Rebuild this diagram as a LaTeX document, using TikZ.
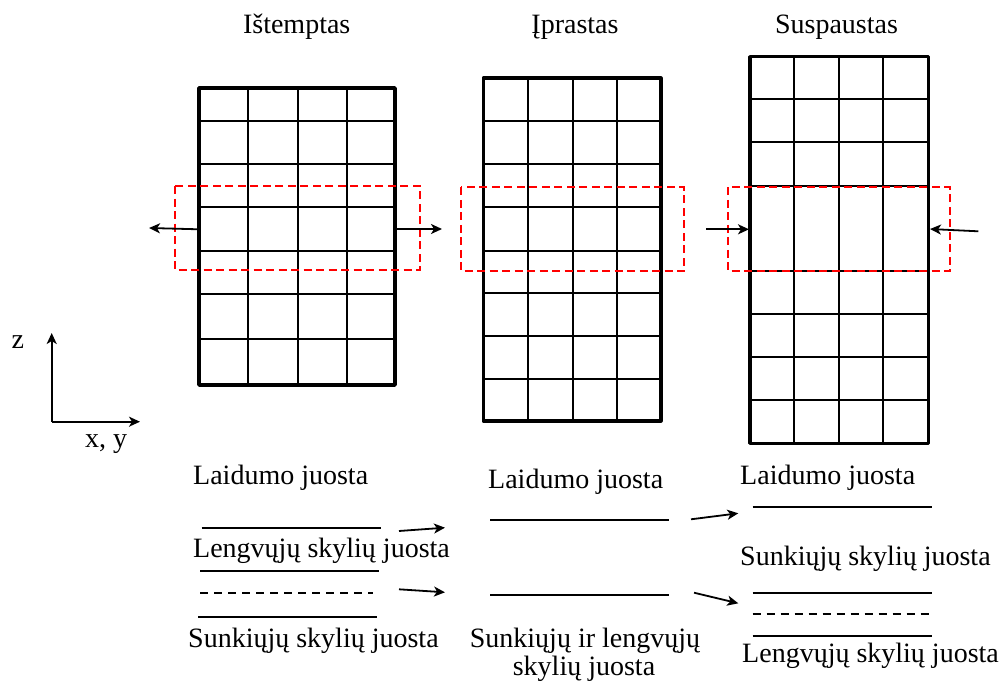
\documentclass[tikz,border=0pt]{standalone}
\usepackage{fontspec}
\setmainfont{Liberation Serif}
\usetikzlibrary{arrows.meta}
\begin{document}
\begin{tikzpicture}[x=1pt,y=-1pt,
  frame/.style={line width=3.6pt, line join=round},
  cell/.style={line width=1.9pt},
  zone/.style={draw=red, line width=1.8pt, dash pattern=on 8pt off 4.5pt},
  level/.style={line width=2pt},
  gaplevel/.style={line width=2pt, dash pattern=on 8pt off 6pt},
  force/.style={line width=1.8pt, -{Stealth[length=11pt,width=10pt,inset=3pt]}},
  lbl/.style={inner sep=0pt, font=\fontsize{28}{30}\selectfont}
]
\useasboundingbox (0,0) rectangle (1003,682);

% --- titles
\node[lbl, anchor=base] (t1) at (296.7,34) {Ištemptas};
\node[lbl, anchor=base] (t2) at (575,34) {Įprastas};
\node[lbl, anchor=base] (t3) at (836.5,34) {Suspaustas};

% --- stretched lattice
\foreach \x in {247.7,298.3,346.7} \draw[cell] (\x,88) -- (\x,385);
\foreach \y in {121,164.3,206.7,251,294,339.3} \draw[cell] (199,\y) -- (395,\y);
\draw[frame] (199,88) rectangle (395,385);
\draw[zone] (175,186) rectangle (420,270);

% --- relaxed lattice
\foreach \x in {528.3,572.7,616.7} \draw[cell] (\x,78) -- (\x,421);
\foreach \y in {121,164.3,206.7,250.7,292.7,336,379} \draw[cell] (483.3,\y) -- (660.7,\y);
\draw[frame] (483.3,78.3) rectangle (660.7,421);
\draw[zone] (460.7,187.3) rectangle (684,271);

% --- compressed lattice
\foreach \x in {794.3,839.3,883.3} \draw[cell] (\x,57) -- (\x,443);
\foreach \y in {98.7,142.3,185.7,271,314,356.7,400} \draw[cell] (750,\y) -- (928.3,\y);
\draw[frame] (750,56.7) rectangle (928.3,443.3);
\draw[zone] (727.7,187.3) rectangle (950,271);

% --- applied forces
\coordinate (s1l) at (199,229.3);  \coordinate (s1lt) at (149,228);
\coordinate (s1r) at (396.7,229);  \coordinate (s1rt) at (442,229);
\coordinate (c3lf) at (706,229.3); \coordinate (c3l) at (749,229.3);
\coordinate (c3rf) at (978.3,231.3); \coordinate (c3r) at (930,229);
\draw[force] (s1l) -- (s1lt);
\draw[force] (s1r) -- (s1rt);
\draw[force] (c3lf) -- (c3l);
\draw[force] (c3rf) -- (c3r);

% --- axes
\coordinate (o) at (51.7,421.7);
\coordinate (zt) at (51.7,333);
\coordinate (xt) at (140,421.7);
\draw[force] (o) -- (zt);
\draw[force] (o) -- (xt);
\node[lbl, anchor=base west] (zl) at (11.5,348) {z};
\node[lbl, anchor=base west] (xl) at (85,447.5) {x, y};

% --- band diagram: stretched
\node[lbl, anchor=base west] (b1c) at (193,484) {Laidumo juosta};
\draw[level] (201.7,528.3) -- (381,528.3);
\node[lbl, anchor=base west] (b1l) at (193,557) {Lengvųjų skylių juosta};
\draw[level] (200,570.7) -- (379.3,570.7);
\draw[gaplevel] (200,593.3) -- (373,593.3);
\draw[level] (198.3,616.7) -- (376.7,616.7);
\node[lbl, anchor=base west] (b1h) at (188,647) {Sunkiųjų skylių juosta};

% --- band diagram: relaxed
\node[lbl, anchor=base west] (b2c) at (488,488.5) {Laidumo juosta};
\draw[level] (490,520) -- (669,520);
\draw[level] (490,595) -- (669,595);
\node[lbl, anchor=base] (b2v1) at (585,647) {Sunkiųjų ir lengvųjų};
\node[lbl, anchor=base] (b2v2) at (584,675) {skylių juosta};

% --- band diagram: compressed
\node[lbl, anchor=base west] (b3c) at (740,484) {Laidumo juosta};
\draw[level] (752.7,506.7) -- (931.7,506.7);
\node[lbl, anchor=base west] (b3h) at (740,565) {Sunkiųjų skylių juosta};
\draw[level] (752.7,592.7) -- (931.7,592.7);
\draw[gaplevel] (752.7,614) -- (931.7,614);
\draw[level] (752.7,635.7) -- (931.7,635.7);
\node[lbl, anchor=base west] (b3l) at (742,662) {Lengvųjų skylių juosta};

% --- band shifts
\coordinate (a1s) at (399,531);   \coordinate (a1e) at (445,527.7);
\coordinate (a2s) at (399,589.3); \coordinate (a2e) at (445,592.3);
\coordinate (a3s) at (691,519.3); \coordinate (a3e) at (738.3,513.3);
\coordinate (a4s) at (694,592.7); \coordinate (a4e) at (738.3,603.3);
\draw[force] (a1s) -- (a1e);
\draw[force] (a2s) -- (a2e);
\draw[force] (a3s) -- (a3e);
\draw[force] (a4s) -- (a4e);
\end{tikzpicture}
\end{document}
